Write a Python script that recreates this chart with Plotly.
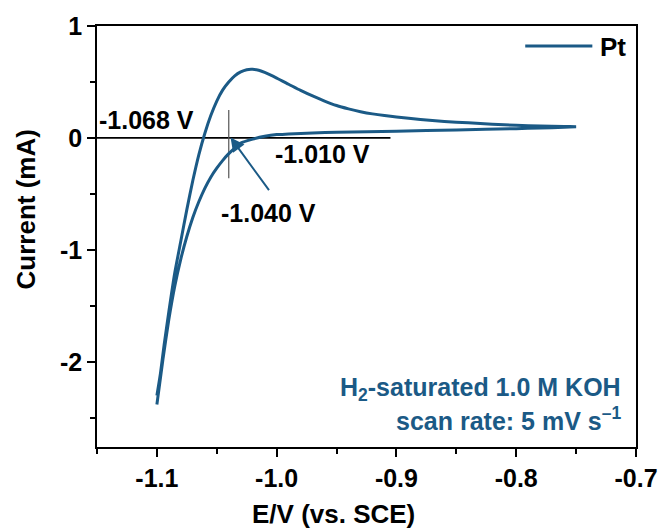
import plotly.graph_objects as go

# Cyclic voltammogram of Pt in H2-saturated 1.0 M KOH (potential in V vs. SCE, current in mA)
forward_E = [-1.100, -1.097, -1.094, -1.090, -1.085, -1.080, -1.075, -1.070, -1.065,
             -1.060, -1.055, -1.050, -1.045, -1.040, -1.035, -1.030, -1.025, -1.020,
             -1.015, -1.010, -1.000, -0.990, -0.980, -0.970, -0.960, -0.950, -0.940,
             -0.930, -0.920, -0.910, -0.900, -0.880, -0.860, -0.840, -0.820, -0.800,
             -0.780, -0.760, -0.750]
forward_I = [-2.30, -2.10, -1.85, -1.55, -1.20, -0.92, -0.64, -0.38, -0.15,
             0.04, 0.20, 0.33, 0.43, 0.50, 0.555, 0.59, 0.61, 0.613,
             0.605, 0.585, 0.535, 0.48, 0.425, 0.375, 0.33, 0.29, 0.26,
             0.235, 0.215, 0.20, 0.188, 0.165, 0.148, 0.135, 0.122, 0.113,
             0.107, 0.103, 0.100]

backward_E = [-0.750, -0.760, -0.780, -0.800, -0.850, -0.900, -0.950, -0.970, -0.990,
              -1.000, -1.010, -1.020, -1.030, -1.035, -1.040, -1.045, -1.050, -1.055,
              -1.060, -1.065, -1.070, -1.075, -1.080, -1.085, -1.090, -1.095, -1.100]
backward_I = [0.100, 0.095, 0.090, 0.083, 0.072, 0.060, 0.050, 0.045, 0.035,
              0.030, 0.015, -0.010, -0.045, -0.090, -0.140, -0.200, -0.270, -0.350,
              -0.450, -0.570, -0.710, -0.880, -1.080, -1.320, -1.620, -1.980, -2.380]

series_name = "Pt"
x_tickvals = [-1.1, -1.0, -0.9, -0.8, -0.7]
x_ticktext = ["-1.1", "-1.0", "-0.9", "-0.8", "-0.7"]
y_tickvals = [-2, -1, 0, 1]
y_ticktext = ["-2", "-1", "0", "1"]

# Onset potentials marked on the chart
onset_forward = -1.068
onset_backward = -1.010
onset_mark = -1.040

BLUE = "#1b5a86"
FONT = "Arial"

fig = go.Figure()
fig.add_trace(go.Scatter(
    x=forward_E + backward_E,
    y=forward_I + backward_I,
    mode="lines",
    name=series_name,
    line=dict(color=BLUE, width=3, shape="spline", smoothing=0.6),
    showlegend=False,
))

# zero-current baseline and the vertical marker at the crossing potential
fig.add_shape(type="line", xref="x", yref="y", x0=-1.15, x1=-0.905, y0=0, y1=0,
              line=dict(color="black", width=1.8), layer="below")
fig.add_shape(type="line", xref="x", yref="y", x0=onset_mark, x1=onset_mark,
              y0=0.25, y1=-0.36, line=dict(color="#555555", width=1.2), layer="below")

ann_font = dict(family=FONT, size=25, color="black")
fig.add_annotation(x=-1.1087, y=0.16, xref="x", yref="y", showarrow=False,
                   xanchor="center", yanchor="middle",
                   text=f"<b>{onset_forward:.3f} V</b>", font=ann_font)
fig.add_annotation(x=-0.9617, y=-0.142, xref="x", yref="y", showarrow=False,
                   xanchor="center", yanchor="middle",
                   text=f"<b>{onset_backward:.3f} V</b>", font=ann_font)
fig.add_annotation(x=-1.0071, y=-0.667, xref="x", yref="y", showarrow=False,
                   xanchor="center", yanchor="middle",
                   text=f"<b>{onset_mark:.3f} V</b>", font=ann_font)
# arrow pointing at the crossing
fig.add_annotation(x=-1.0385, y=0.005, ax=-1.0055, ay=-0.48, xref="x", yref="y",
                   axref="x", ayref="y", text="", showarrow=True, arrowhead=2,
                   arrowsize=1.4, arrowwidth=2, arrowcolor=BLUE)

# legend key
fig.add_shape(type="line", xref="paper", yref="paper", x0=0.7945, x1=0.919,
              y0=0.9526, y1=0.9526, line=dict(color=BLUE, width=3))
fig.add_annotation(x=0.93, y=0.951, xref="paper", yref="paper", showarrow=False,
                   xanchor="left", yanchor="middle", text=f"<b>{series_name}</b>",
                   font=dict(family=FONT, size=26, color="black"))

# electrolyte / scan-rate note
note_font = dict(family=FONT, size=25, color=BLUE)
fig.add_annotation(x=0.976, y=0.137, xref="paper", yref="paper", showarrow=False,
                   xanchor="right", yanchor="middle",
                   text="<b>H<sub>2</sub>-saturated 1.0 M KOH</b>", font=note_font)
fig.add_annotation(x=0.976, y=0.066, xref="paper", yref="paper", showarrow=False,
                   xanchor="right", yanchor="middle",
                   text="<b>scan rate: 5 mV s<sup>–1</sup></b>", font=note_font)

# axis titles
title_font = dict(family=FONT, size=26, color="black")
fig.add_annotation(x=-0.132, y=0.564, xref="paper", yref="paper", showarrow=False,
                   xanchor="center", yanchor="middle",
                   textangle=-90, text="<b>Current (mA)</b>", font=title_font)
fig.add_annotation(x=0.4385, y=-0.159, xref="paper", yref="paper", showarrow=False,
                   xanchor="center", yanchor="middle",
                   text="<b>E/V (vs. SCE)</b>", font=title_font)

axis_common = dict(
    showline=True, linecolor="black", linewidth=1.6, mirror=True,
    ticks="outside", ticklen=8, tickwidth=1.6, tickcolor="black",
    showgrid=False, zeroline=False,
    tickfont=dict(family=FONT, size=25, color="black"),
)

fig.update_xaxes(range=[-1.15, -0.7], tickvals=x_tickvals,
                 ticktext=[f"<b>{t}</b>" for t in x_ticktext],
                 minor=dict(ticks="outside", ticklen=5, tickwidth=1.6,
                            tickcolor="black", dtick=0.05, tick0=-1.1),
                 **axis_common)
fig.update_yaxes(range=[-2.76, 1.0], tickvals=y_tickvals,
                 ticktext=[f"<b>{t}</b>" for t in y_ticktext],
                 minor=dict(ticks="outside", ticklen=5, tickwidth=1.6,
                            tickcolor="black", dtick=0.5, tick0=0),
                 **axis_common)

fig.update_layout(
    width=670, height=528,
    margin=dict(l=97, r=28, t=25, b=81),
    paper_bgcolor="white", plot_bgcolor="white",
    font=dict(family=FONT),
)

fig.write_html("out.html")
